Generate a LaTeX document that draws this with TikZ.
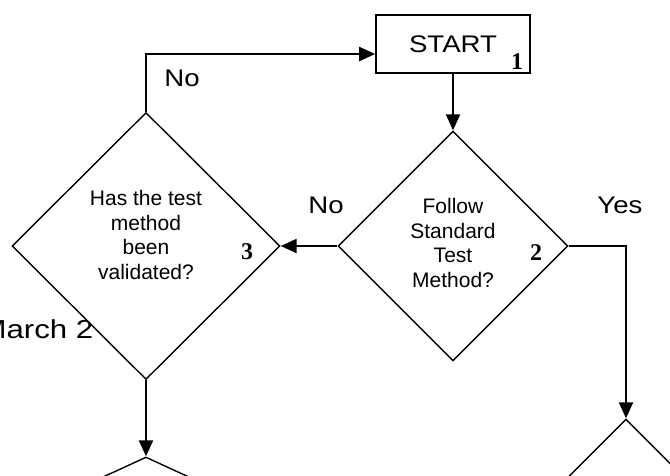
\documentclass[tikz,border=0pt]{standalone}
\usepackage{fontspec}
\setmainfont{Liberation Sans}
\newfontfamily\labelfont[FakeStretch=1.15]{Liberation Sans}
\newfontfamily\widefont[FakeStretch=1.2]{Liberation Sans}
\newfontfamily\numfont{Liberation Serif}
\usetikzlibrary{shapes.geometric,arrows.meta}

\begin{document}
\begin{tikzpicture}[x=1pt,y=-1pt,
	box/.style={draw,line width=1.6pt,fill=white,inner sep=0pt,minimum width=154pt,minimum height=58pt},
	decision/.style={diamond,draw,line width=1.4pt,fill=white,inner sep=0pt},
	qtext/.style={align=center,font=\fontsize{21}{24.5}\selectfont},
	lbl/.style={font=\labelfont\fontsize{24}{28}\selectfont},
	num/.style={font=\numfont\bfseries\fontsize{24}{26}\selectfont},
	flow/.style={line width=2.2pt,-{Triangle[length=16pt,width=14pt]}}]
	\useasboundingbox (0,0) rectangle (670,475);
	\node[font=\widefont\fontsize{26}{30}\selectfont,anchor=base west] (month) at (-23,338) {March 2};
	\node[decision,minimum width=268pt,minimum height=267pt] (valid) at (146,246) {};
	\node[decision,minimum width=230pt,minimum height=230pt] (follow) at (453,246) {};
	\node[box,lbl] (start) at (453,44) {START};
	\node[decision,minimum width=400pt,minimum height=184pt] (nextl) at (146,549) {};
	\node[decision,minimum width=240pt,minimum height=240pt] (nextr) at (626,539) {};
	\node[qtext] (validtext) at (146,235) {Has the test\\method\\been\\validated?};
	\node[qtext] (followtext) at (453,243) {Follow\\Standard\\Test\\Method?};
	\node[num] (n1) at (517,62) {1};
	\node[num] (n2) at (536,253) {2};
	\node[num] (n3) at (247,252) {3};
	\node[lbl] (no1) at (182,78) {No};
	\node[lbl] (no2) at (326,205) {No};
	\node[lbl] (yes) at (620,205) {Yes};
	\draw[flow] (start.south) -- (follow.north);
	\draw[flow] (follow.west) -- (valid.east);
	\draw[flow] (valid.north) |- ([yshift=-10pt]start.west);
	\draw[flow] (follow.east) -| (nextr.north);
	\draw[flow] (valid.south) -- (nextl.north);
\end{tikzpicture}
\end{document}
